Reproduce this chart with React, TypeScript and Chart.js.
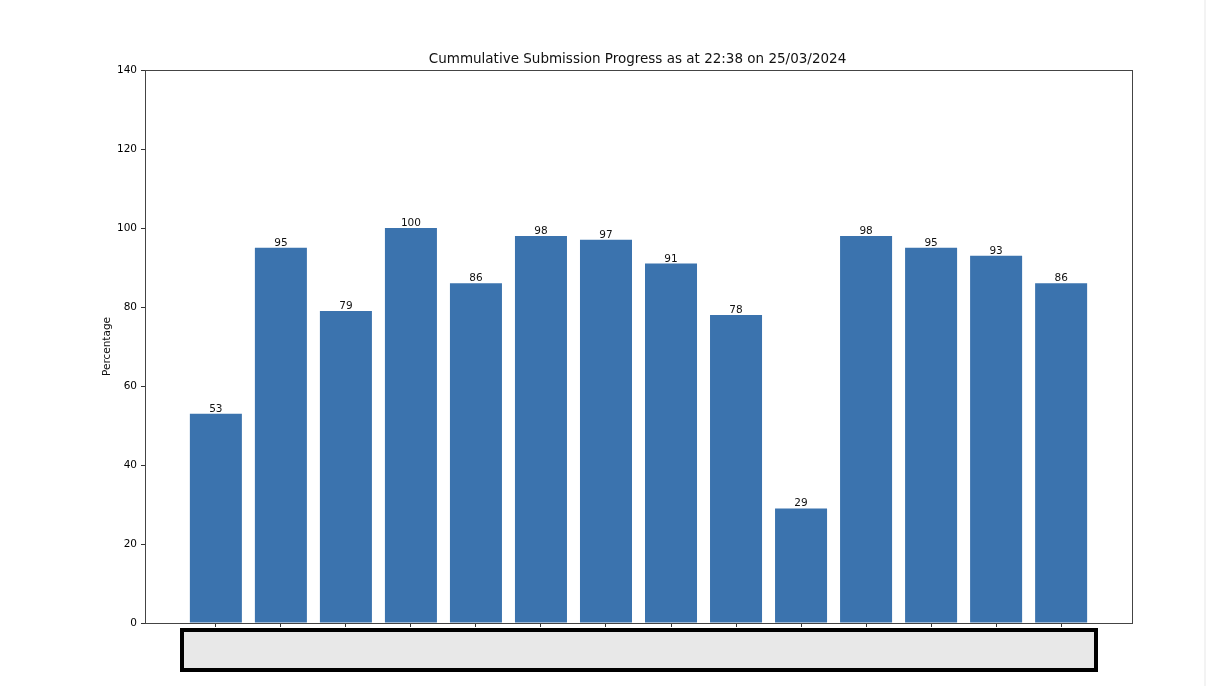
import React, { useEffect, useRef } from "react";
import { Chart, registerables } from "chart.js";

Chart.register(...registerables);

const TITLE = "Cummulative Submission Progress as at 22:38 on 25/03/2024";
const Y_LABEL = "Percentage";
const categories = ["1", "2", "3", "4", "5", "6", "7", "8", "9", "10", "11", "12", "13", "14"];
const values = [53, 95, 79, 100, 86, 98, 97, 91, 78, 29, 98, 95, 93, 86];
const yTicks = [0, 20, 40, 60, 80, 100, 120, 140];

const FONT = "'DejaVu Sans', sans-serif";

const decorPlugin = {
  id: "decor",
  afterDraw(chart: any) {
    const { ctx, chartArea } = chart;
    const { left, right, top, bottom } = chartArea;
    ctx.save();
    ctx.strokeStyle = "#444";
    ctx.lineWidth = 1;
    ctx.strokeRect(Math.round(left) + 0.5, Math.round(top) + 0.5, Math.round(right - left), Math.round(bottom - top));
    // title
    ctx.fillStyle = "#111";
    ctx.font = `13.5px ${FONT}`;
    ctx.textAlign = "center";
    ctx.textBaseline = "alphabetic";
    ctx.fillText(TITLE, (left + right) / 2 - 1, top - 7);
    // y label
    ctx.save();
    ctx.translate(107, (top + bottom) / 2);
    ctx.rotate(-Math.PI / 2);
    ctx.font = `10.5px ${FONT}`;
    ctx.textAlign = "center";
    ctx.textBaseline = "middle";
    ctx.fillText(Y_LABEL, 0, 0);
    ctx.restore();
    // value labels
    const meta = chart.getDatasetMeta(0);
    ctx.font = `10.5px ${FONT}`;
    ctx.textAlign = "center";
    ctx.textBaseline = "alphabetic";
    meta.data.forEach((bar: any, i: number) => {
      ctx.fillText(String(values[i]), bar.x, bar.y - 2);
    });
    ctx.restore();
  },
};

export default function App() {
  const ref = useRef<HTMLCanvasElement | null>(null);
  useEffect(() => {
    document.body.style.margin = "0";
    Chart.defaults.font.family = FONT;
    const chart = new Chart(ref.current!, {
      type: "bar",
      data: {
        datasets: [
          {
            data: values.map((v, i) => ({ x: i, y: v })),
            backgroundColor: "#3b73ae",
            borderWidth: 0,
            categoryPercentage: 1,
            barPercentage: 0.8,
          } as any,
        ],
      },
      options: {
        animation: false,
        responsive: false,
        maintainAspectRatio: false,
        layout: { padding: { left: 0, right: 74, top: 70, bottom: 0 } },
        plugins: { legend: { display: false }, tooltip: { enabled: false }, title: { display: false } },
        scales: {
          x: {
            type: "linear",
            min: -1.09,
            max: 14.09,
            offset: false,
            border: { display: false },
            grid: { offset: false, drawOnChartArea: false, drawTicks: true, tickLength: 4, color: "#333" },
            ticks: { callback: () => "", autoSkip: false },
            afterBuildTicks: (scale: any) => {
              scale.ticks = categories.map((_, i) => ({ value: i }));
            },
            afterFit: (scale: any) => {
              scale.height = 63;
            },
          },
          y: {
            min: 0,
            max: 140,
            border: { display: false },
            grid: { drawOnChartArea: false, drawTicks: true, tickLength: 4, color: "#333" },
            ticks: { color: "#000", font: { size: 10.5, family: FONT }, padding: 4 },
            afterBuildTicks: (scale: any) => {
              scale.ticks = yTicks.map((v) => ({ value: v }));
            },
            afterFit: (scale: any) => {
              scale.width = 145;
            },
          },
        },
      } as any,
      plugins: [decorPlugin],
    });
    return () => chart.destroy();
  }, []);

  return (
    <div style={{ position: "relative", width: 1206, height: 686, background: "#fff" }}>
      <canvas ref={ref} width={1206} height={686} style={{ display: "block" }} />
      <div
        style={{
          position: "absolute",
          left: 180,
          top: 628,
          width: 918,
          height: 44,
          boxSizing: "border-box",
          border: "4px solid #000",
          background: "#e8e8e8",
        }}
      />
      <div style={{ position: "absolute", left: 1204, top: 0, width: 2, height: 686, background: "#f3f3f3" }} />
    </div>
  );
}
